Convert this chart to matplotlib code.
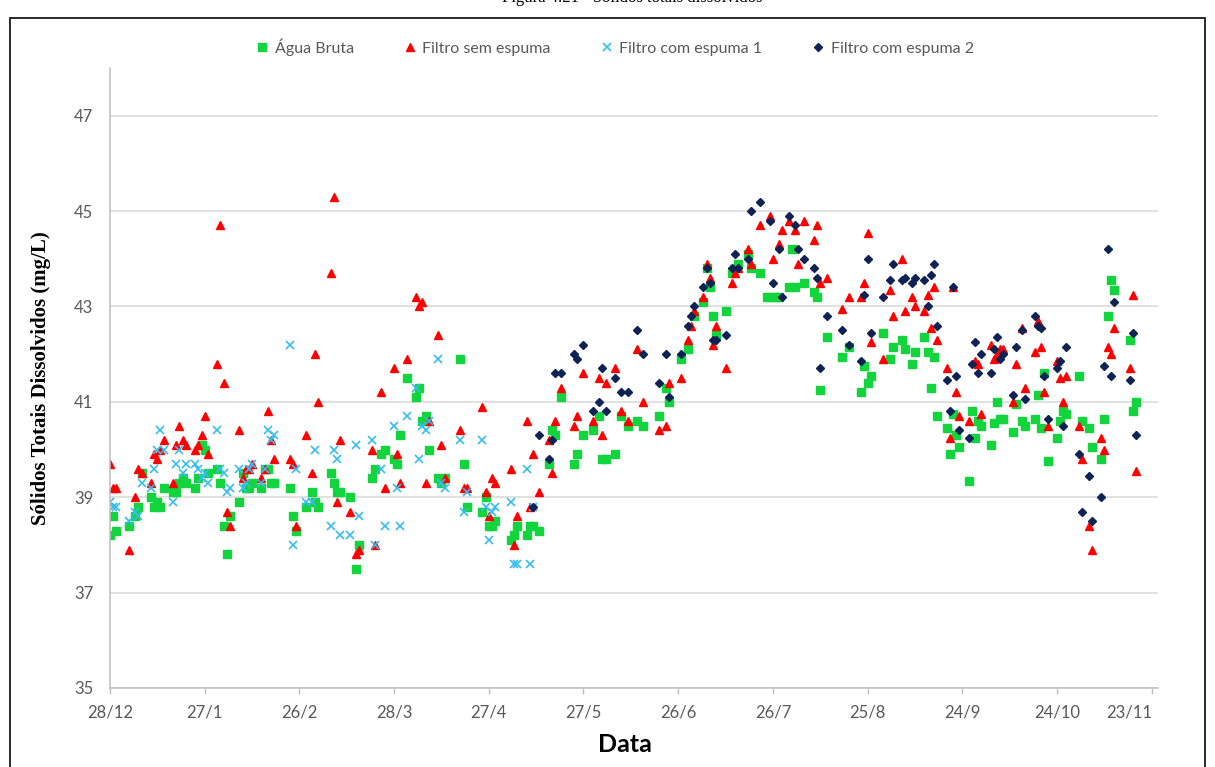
import datetime as dt

import matplotlib

matplotlib.use("Agg")
import matplotlib.pyplot as plt
from matplotlib.patches import Rectangle

# Dias contados a partir de 28/12; valores de STD em mg/L
inicio = dt.date(2010, 12, 28)

dias_bruta = [
    0, 1, 2, 6, 8, 9, 10, 13, 14, 15, 16, 17, 20, 21, 22, 23, 24, 27, 28, 29,
    30, 31, 34, 35, 36, 37, 38, 41, 42, 43, 44, 45, 48, 49, 50, 51, 52, 57, 58, 59,
    62, 64, 65, 66, 70, 71, 72, 73, 76, 78, 79, 83, 84, 86, 87, 90, 91, 92, 94, 97,
    98, 99, 100, 101, 104, 105, 106, 111, 112, 113, 118, 119, 120, 121, 122, 127, 128, 129, 132, 133,
    134, 136, 139, 140, 141, 143, 147, 148, 150, 153, 155, 156, 157, 160, 162, 164, 167, 169, 174, 176,
    177, 181, 183, 185, 188, 189, 190, 191, 192, 195, 197, 199, 202, 203, 206, 208, 209, 211, 212, 215,
    216, 217, 220, 223, 224, 225, 227, 232, 234, 238, 239, 240, 241, 245, 247, 248, 251, 252, 254, 255,
    258, 259, 260, 261, 262, 265, 266, 267, 268, 269, 272, 273, 274, 275, 276, 279, 280, 281, 282, 283,
    286, 287, 289, 290, 293, 294, 295, 296, 297, 300, 301, 302, 303, 307, 308, 310, 311, 314, 315, 316,
    317, 318, 323, 324, 325,
]
std_bruta = [
    38.2, 38.6, 38.3, 38.4, 38.6, 38.8, 39.5, 39.0, 38.8, 38.9, 38.8, 39.2, 39.1, 39.1, 39.3, 39.4, 39.3, 39.2, 39.4, 40.1,
    40.0, 39.5, 39.6, 39.3, 38.4, 37.8, 38.6, 38.9, 39.5, 39.2, 39.2, 39.3, 39.2, 39.6, 39.6, 39.3, 39.3, 39.2, 38.6, 38.3,
    38.8, 39.1, 38.9, 38.8, 39.5, 39.3, 39.1, 39.1, 39.0, 37.5, 38.0, 39.4, 39.6, 39.9, 40.0, 39.8, 39.7, 40.3, 41.5, 41.1,
    41.3, 40.6, 40.7, 40.0, 39.4, 39.3, 39.4, 41.9, 39.7, 38.8, 38.7, 39.0, 38.4, 38.4, 38.5, 38.1, 38.2, 38.4, 38.2, 38.4,
    38.4, 38.3, 39.7, 40.4, 40.3, 41.1, 39.7, 39.9, 40.3, 40.4, 40.7, 39.8, 39.8, 39.9, 40.7, 40.5, 40.6, 40.5, 40.7, 41.3,
    41.0, 41.9, 42.1, 42.8, 43.1, 43.8, 43.4, 42.8, 42.4, 42.9, 43.7, 43.9, 44.1, 43.8, 43.7, 43.2, 43.2, 43.2, 43.2, 43.4,
    44.2, 43.4, 43.5, 43.3, 43.2, 41.25, 42.35, 41.94, 42.15, 41.2, 41.75, 41.4, 41.55, 42.45, 41.9, 42.15, 42.3, 42.1, 41.8, 42.05,
    42.35, 42.05, 41.3, 41.94, 40.7, 40.45, 39.9, 40.75, 40.3, 40.05, 39.35, 40.8, 40.25, 40.6, 40.5, 40.1, 40.56, 41.0, 40.65, 40.65,
    40.36, 40.96, 40.6, 40.5, 40.65, 41.15, 40.45, 41.6, 39.75, 40.25, 40.6, 40.8, 40.75, 41.55, 40.6, 40.45, 40.06, 39.8, 40.65, 42.8,
    43.55, 43.35, 42.3, 40.8, 41.0,
]

dias_sem = [
    0, 1, 2, 6, 8, 9, 10, 13, 14, 15, 16, 17, 20, 21, 22, 23, 24, 27, 28, 29,
    30, 31, 34, 35, 36, 37, 38, 41, 42, 43, 44, 45, 48, 49, 50, 51, 52, 57, 58, 59,
    62, 64, 65, 66, 70, 71, 72, 73, 76, 78, 79, 83, 84, 86, 87, 90, 91, 92, 94, 97,
    98, 99, 100, 101, 104, 105, 106, 111, 112, 113, 118, 119, 120, 121, 122, 127, 128, 129, 132, 133,
    134, 136, 139, 140, 141, 143, 147, 148, 150, 153, 155, 156, 157, 160, 162, 164, 167, 169, 174, 176,
    177, 181, 183, 184, 185, 188, 189, 190, 191, 192, 195, 197, 198, 199, 202, 203, 206, 209, 210, 212,
    213, 215, 217, 218, 220, 223, 224, 225, 227, 232, 234, 238, 239, 240, 241, 245, 247, 248, 251, 252,
    254, 255, 258, 259, 260, 261, 262, 265, 266, 267, 268, 269, 272, 274, 275, 276, 279, 280, 281, 282,
    283, 286, 287, 289, 290, 293, 294, 295, 296, 297, 300, 301, 302, 303, 307, 308, 310, 311, 314, 315,
    316, 317, 318, 323, 324, 325,
]
std_sem = [
    39.7, 39.2, 39.2, 37.9, 39.0, 39.6, 39.5, 39.3, 39.9, 39.8, 40.0, 40.2, 39.3, 40.1, 40.5, 40.2, 40.1, 40.0, 40.1, 40.3,
    40.7, 39.9, 41.8, 44.7, 41.4, 38.7, 38.4, 40.4, 39.4, 39.6, 39.6, 39.7, 39.4, 39.6, 40.8, 40.2, 39.8, 39.8, 39.7, 38.4,
    40.3, 39.5, 42.0, 41.0, 43.7, 45.3, 38.9, 40.2, 38.7, 37.8, 37.9, 40.0, 38.0, 41.2, 39.2, 41.7, 39.9, 39.3, 41.9, 43.2,
    43.0, 43.1, 39.3, 40.6, 42.4, 40.1, 39.4, 40.4, 39.2, 39.2, 40.9, 39.1, 38.6, 39.4, 39.3, 39.6, 38.0, 38.6, 40.6, 38.8,
    39.9, 39.1, 40.2, 39.5, 40.6, 41.3, 40.5, 40.7, 41.6, 40.6, 41.5, 40.3, 41.4, 41.7, 40.8, 40.6, 42.1, 41.0, 40.4, 40.5,
    41.4, 41.5, 42.3, 42.6, 42.9, 43.2, 43.9, 43.6, 42.2, 42.6, 41.7, 43.5, 43.7, 43.8, 44.2, 43.9, 44.7, 44.9, 44.0, 44.3,
    44.6, 44.8, 44.6, 43.9, 44.8, 44.4, 44.7, 43.5, 43.6, 42.95, 43.2, 43.2, 43.5, 44.55, 42.25, 41.9, 43.35, 42.8, 44.0, 42.9,
    43.2, 43.0, 42.9, 43.25, 42.55, 43.4, 42.3, 41.7, 40.25, 43.4, 41.2, 40.7, 40.6, 41.85, 41.8, 40.75, 42.2, 41.9, 42.0, 42.1,
    42.1, 41.0, 41.8, 42.55, 41.3, 42.05, 42.7, 42.15, 41.2, 40.5, 41.85, 41.5, 41.0, 41.55, 40.5, 39.8, 38.4, 37.9, 40.25, 40.0,
    42.15, 42.0, 42.55, 41.7, 43.25, 39.55,
]

dias_esp1 = [
    0, 1, 2, 6, 8, 9, 10, 13, 14, 15, 16, 17, 20, 21, 22, 23, 24, 27, 28, 29,
    30, 31, 34, 35, 36, 37, 38, 41, 42, 43, 44, 45, 48, 49, 50, 51, 52, 57, 58, 59,
    62, 64, 65, 70, 71, 72, 73, 76, 78, 79, 83, 84, 86, 87, 90, 91, 92, 94, 97, 98,
    99, 100, 101, 104, 105, 106, 111, 112, 113, 118, 119, 120, 121, 122, 127, 128, 129, 132, 133, 134,
]
std_esp1 = [
    38.9, 38.8, 38.8, 38.5, 38.7, 38.6, 39.3, 39.2, 39.6, 40.0, 40.4, 40.0, 38.9, 39.7, 40.0, 39.5, 39.7, 39.7, 39.6, 39.4,
    39.5, 39.3, 40.4, 39.6, 39.5, 39.1, 39.2, 39.6, 39.2, 39.3, 39.6, 39.7, 39.3, 39.6, 40.4, 40.2, 40.3, 42.2, 38.0, 39.6,
    38.9, 38.9, 40.0, 38.4, 40.0, 39.8, 38.2, 38.2, 40.1, 38.6, 40.2, 38.0, 39.6, 38.4, 40.5, 39.2, 38.4, 40.7, 41.3, 39.8,
    40.5, 40.4, 40.6, 41.9, 39.3, 39.2, 40.2, 38.7, 39.1, 40.2, 38.8, 38.1, 38.7, 38.8, 38.9, 37.6, 37.6, 39.6, 37.6, 38.8,
]

dias_esp2 = [
    134, 136, 139, 140, 141, 143, 147, 148, 150, 153, 155, 156, 157, 160, 162, 164, 167, 169, 174, 176,
    177, 181, 183, 184, 185, 188, 189, 190, 191, 192, 195, 197, 198, 199, 202, 203, 206, 209, 210, 212,
    213, 215, 217, 218, 220, 223, 224, 225, 227, 232, 234, 238, 239, 240, 241, 245, 247, 248, 251, 252,
    254, 255, 258, 259, 260, 261, 262, 265, 266, 267, 268, 269, 272, 273, 274, 275, 276, 279, 280, 281,
    282, 283, 286, 287, 289, 290, 293, 294, 295, 296, 297, 300, 301, 302, 303, 307, 308, 310, 311, 314,
    315, 316, 317, 318, 323, 324, 325,
]
std_esp2 = [
    38.8, 40.3, 39.8, 40.2, 41.6, 41.6, 42.0, 41.9, 42.2, 40.8, 41.0, 41.7, 40.8, 41.5, 41.2, 41.2, 42.5, 42.0, 41.4, 42.0,
    41.1, 42.0, 42.6, 42.8, 43.0, 43.4, 43.8, 43.5, 42.3, 42.3, 42.4, 43.8, 44.1, 43.8, 44.0, 45.0, 45.2, 44.8, 43.5, 44.2,
    43.2, 44.9, 44.7, 44.2, 44.0, 43.8, 43.6, 41.7, 42.8, 42.5, 42.2, 41.85, 43.25, 44.0, 42.45, 43.2, 43.55, 43.9, 43.55, 43.6,
    43.5, 43.6, 43.55, 43.0, 43.65, 43.9, 42.6, 41.45, 40.8, 43.4, 41.55, 40.4, 40.25, 41.8, 42.25, 41.6, 42.0, 41.6, 42.1, 42.35,
    41.9, 42.0, 41.15, 42.15, 42.5, 41.05, 42.8, 42.6, 42.55, 41.55, 40.65, 41.7, 41.85, 40.5, 42.15, 39.9, 38.7, 39.45, 38.5, 39.0,
    41.75, 44.2, 41.55, 43.1, 41.45, 42.45, 40.3,
]

# Marcas do eixo a cada 30 dias, como no Excel
dias_marcas = list(range(0, 331, 30))
rotulos_marcas = [
    f"{(inicio + dt.timedelta(days=d)).day}/{(inicio + dt.timedelta(days=d)).month}"
    for d in dias_marcas
]

CINZA = "#595959"
fonte_eixo = ["Lato", "DejaVu Sans"]

fig = plt.figure(figsize=(12.15, 7.67), dpi=100)
ax = fig.add_axes([0.0905, 0.1030, 0.8626, 0.8083])

ax.plot(dias_bruta, std_bruta, ls="none", marker="s", ms=5.3, color="#12d43c",
        mec="#12d43c", label="Água Bruta")
ax.plot(dias_sem, std_sem, ls="none", marker="^", ms=5.9, color="#ff0000",
        mec="#ff0000", label="Filtro sem espuma")
ax.plot(dias_esp1, std_esp1, ls="none", marker="x", ms=5.3, mew=1.2,
        color="#35bdf0", label="Filtro com espuma 1")
ax.plot(dias_esp2, std_esp2, ls="none", marker="D", ms=4.0, color="#0e2255",
        mec="#0e2255", label="Filtro com espuma 2")

ax.set_xlim(0, 332)
ax.set_ylim(35, 48)
ax.set_yticks(range(35, 48, 2))
ax.set_xticks(dias_marcas)
ax.set_xticklabels(rotulos_marcas)
ax.get_xticklabels()[-1].set_horizontalalignment("right")

ax.grid(axis="y", color="#d9d9d9", lw=1.1)
ax.set_axisbelow(True)
for lado in ("top", "right"):
    ax.spines[lado].set_visible(False)
for lado in ("left", "bottom"):
    ax.spines[lado].set_color("#bfbfbf")
    ax.spines[lado].set_linewidth(1.1)

ax.tick_params(axis="x", direction="out", length=4, width=1, color="#bfbfbf",
               pad=8, labelsize=12, labelcolor=CINZA)
ax.tick_params(axis="y", length=0, pad=12, labelsize=12, labelcolor=CINZA)
for rot in ax.get_xticklabels() + ax.get_yticklabels():
    rot.set_family(fonte_eixo)

ax.set_ylabel("Sólidos Totais Dissolvidos (mg/L)", family="Liberation Serif",
              fontweight="bold", fontsize=15, color="black")
ax.yaxis.set_label_coords(-0.056, 0.5)
ax.set_xlabel("Data", family=fonte_eixo, fontweight="bold", fontsize=18,
              color="black")
ax.xaxis.set_label_coords(0.491, -0.073)

leg = fig.legend(loc="center", bbox_to_anchor=(0.506, 1 - 47 / 767), ncol=4,
                 frameon=False, handlelength=0.8, handletextpad=0.4,
                 columnspacing=3.1, prop={"family": fonte_eixo, "size": 11.5})
for txt in leg.get_texts():
    txt.set_color(CINZA)

# moldura da figura e legenda da figura cortada no topo
fig.add_artist(Rectangle((10 / 1215, -0.05), 1195 / 1215, 1.05 - 18 / 767,
                         transform=fig.transFigure, fill=False,
                         ec="#1a1a1a", lw=1.3))
fig.text(0.52, 1 - 2 / 767, "Figura 4.21 - Sólidos totais dissolvidos",
         ha="center", va="baseline", family="Liberation Serif", fontsize=12)

fig.savefig("out.png", dpi=100)
plt.close(fig)
